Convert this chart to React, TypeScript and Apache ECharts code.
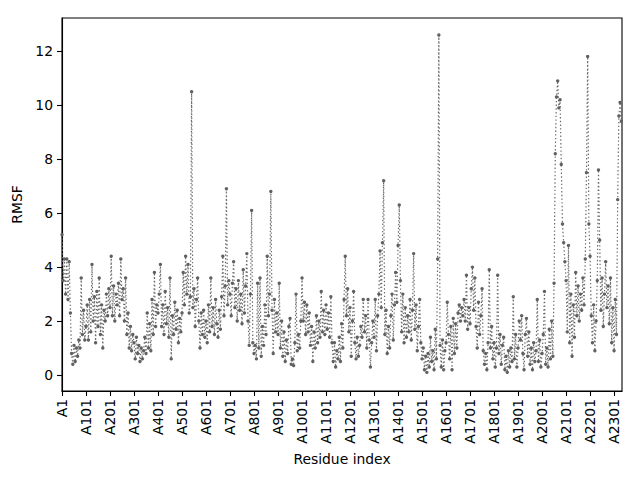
import React, { useEffect, useRef } from "react";
import * as echarts from "echarts";

// RMSF sampled every 5 residues (residue 1, 6, 11, ...)
const RESIDUE_STEP = 5;
const rmsf0001 = [5.2, 3.5, 4.3, 3.0, 4.3, 2.8, 4.2, 2.3, 0.8, 0.4, 1.1, 0.5, 1.0, 0.7, 1.3, 1.0, 3.6, 1.5, 2.4, 1.3];
const rmsf0101 = [1.8, 2.6, 1.3, 2.8, 1.6, 4.1, 2.0, 2.9, 1.2, 3.1, 1.8, 3.6, 1.5, 2.6, 1.0, 2.4, 2.0, 3.0, 2.2, 3.2];
const rmsf0201 = [2.5, 4.4, 2.2, 3.3, 2.0, 3.0, 2.6, 3.4, 2.2, 4.3, 2.8, 3.2, 2.0, 3.6, 1.5, 2.3, 1.0, 1.8, 0.9, 1.5];
const rmsf0301 = [1.2, 0.6, 1.4, 0.8, 1.1, 0.5, 1.0, 0.6, 0.9, 1.4, 0.8, 2.3, 1.0, 1.9, 0.9, 2.8, 1.5, 3.8, 1.8, 2.6];
const rmsf0401 = [2.3, 3.0, 4.1, 1.8, 2.6, 1.5, 3.1, 1.9, 2.5, 1.4, 3.6, 0.6, 2.2, 1.5, 2.7, 1.7, 2.4, 1.2, 2.1, 1.6];
const rmsf0501 = [2.3, 3.8, 2.6, 4.4, 3.0, 4.1, 2.3, 2.9, 10.5, 2.5, 3.2, 1.8, 2.8, 3.6, 2.0, 1.0, 2.3, 1.5, 2.4, 1.4];
const rmsf0601 = [2.0, 1.2, 2.6, 1.6, 3.6, 1.8, 2.5, 1.5, 2.8, 1.9, 1.4, 2.4, 1.7, 2.9, 4.4, 2.2, 3.3, 6.9, 2.6, 3.5];
const rmsf0701 = [3.0, 2.2, 3.4, 4.2, 2.5, 3.2, 2.0, 3.5, 2.4, 3.0, 1.9, 3.9, 2.3, 3.3, 4.5, 2.0, 1.1, 3.0, 6.1, 1.2];
const rmsf0801 = [0.8, 1.1, 0.6, 3.4, 1.0, 3.6, 0.7, 1.8, 1.1, 2.6, 1.5, 4.4, 2.2, 3.0, 6.8, 2.4, 0.8, 2.8, 1.6, 2.3];
const rmsf0901 = [1.5, 3.4, 1.0, 2.0, 0.7, 1.6, 0.5, 1.3, 0.8, 1.8, 2.1, 0.4, 0.6, 0.35, 1.2, 3.0, 0.9, 1.5, 1.0, 2.0];
const rmsf1001 = [3.6, 2.0, 2.7, 1.5, 2.6, 1.6, 2.3, 1.1, 1.8, 0.5, 1.6, 1.0, 2.2, 1.2, 2.0, 1.4, 3.1, 1.6, 2.4, 1.5];
const rmsf1101 = [2.6, 1.7, 2.3, 1.4, 2.9, 1.2, 0.5, 1.2, 0.3, 0.9, 0.6, 1.4, 0.5, 1.9, 1.0, 2.8, 4.4, 2.2, 3.2, 1.6];
const rmsf1201 = [2.5, 0.7, 2.0, 3.1, 1.2, 0.6, 1.4, 0.7, 1.1, 1.8, 1.4, 2.8, 1.6, 2.2, 1.0, 2.8, 1.3, 0.3, 1.2, 2.0];
const rmsf1301 = [1.4, 2.8, 0.9, 2.2, 3.0, 4.6, 2.5, 4.9, 7.2, 1.5, 2.4, 0.8, 1.8, 1.0, 2.2, 3.0, 1.3, 2.6, 3.8, 2.7];
const rmsf1401 = [4.8, 6.3, 3.5, 1.6, 3.0, 1.2, 2.5, 1.4, 2.2, 1.6, 2.8, 1.3, 2.4, 4.5, 1.7, 2.6, 0.9, 1.8, 2.8, 1.2];
const rmsf1501 = [0.6, 1.0, 0.2, 0.7, 0.1, 0.8, 0.3, 1.4, 0.5, 0.9, 0.2, 1.7, 0.6, 4.3, 12.6, 1.1, 0.3, 1.3, 0.2, 0.9];
const rmsf1601 = [1.2, 2.7, 1.5, 0.6, 1.8, 0.2, 2.1, 0.8, 1.9, 1.0, 2.3, 2.6, 2.0, 2.5, 2.2, 2.8, 2.0, 3.7, 1.7, 2.5];
const rmsf1701 = [1.9, 3.2, 4.0, 2.4, 3.6, 1.8, 1.0, 2.7, 1.5, 2.2, 3.2, 0.9, 0.4, 0.8, 0.2, 1.2, 3.9, 1.0, 1.8, 0.6];
const rmsf1801 = [1.2, 0.3, 1.0, 3.7, 0.8, 1.5, 0.4, 1.1, 1.4, 0.2, 0.7, 0.1, 0.9, 0.3, 1.0, 0.5, 2.9, 0.6, 1.5, 0.3];
const rmsf1901 = [1.0, 2.0, 1.3, 2.2, 0.8, 0.2, 1.5, 2.1, 0.7, 1.6, 0.4, 1.0, 0.2, 1.2, 0.5, 0.9, 2.8, 0.5, 1.3, 0.3];
const rmsf2001 = [0.8, 1.5, 3.1, 0.4, 1.0, 0.3, 1.7, 0.6, 2.0, 0.7, 3.4, 8.2, 10.3, 10.9, 9.9, 10.2, 7.8, 5.6, 4.9, 4.2];
const rmsf2101 = [3.5, 1.6, 4.8, 1.2, 3.0, 0.7, 2.6, 1.4, 3.8, 2.2, 3.3, 2.0, 3.0, 2.4, 3.6, 2.6, 4.3, 7.5, 11.8, 5.6];
const rmsf2201 = [4.4, 2.2, 1.2, 2.6, 0.9, 2.0, 3.5, 7.6, 5.0, 2.4, 3.6, 1.8, 3.0, 4.2, 2.5, 3.3, 1.9, 3.6, 1.2, 2.5];
const rmsf2301 = [0.9, 2.8, 1.5, 6.5, 9.6, 10.1, 9.4];

const RMSF = [
  ...rmsf0001, ...rmsf0101, ...rmsf0201, ...rmsf0301, ...rmsf0401, ...rmsf0501,
  ...rmsf0601, ...rmsf0701, ...rmsf0801, ...rmsf0901, ...rmsf1001, ...rmsf1101,
  ...rmsf1201, ...rmsf1301, ...rmsf1401, ...rmsf1501, ...rmsf1601, ...rmsf1701,
  ...rmsf1801, ...rmsf1901, ...rmsf2001, ...rmsf2101, ...rmsf2201, ...rmsf2301,
];

const X_TICK_LABELS = [
  "A1", "A101", "A201", "A301", "A401", "A501", "A601", "A701", "A801", "A901",
  "A1001", "A1101", "A1201", "A1301", "A1401", "A1501", "A1601", "A1701", "A1801",
  "A1901", "A2001", "A2101", "A2201", "A2301",
];
const X_TICK_STEP = 100;
const Y_TICKS = [0, 2, 4, 6, 8, 10, 12];
const X_MAX = 2333;
const Y_MIN = -0.59;
const Y_MAX = 13.23;

const FONT = "DejaVu Sans";

export default function App() {
  const ref = useRef<HTMLDivElement>(null);
  useEffect(() => {
    if (!ref.current) return;
    const chart = echarts.init(ref.current, undefined, { renderer: "svg" });
    const data = RMSF.map((v, i) => [i * RESIDUE_STEP, v]);
    const xTickValues = X_TICK_LABELS.map((_, i) => i * X_TICK_STEP);
    chart.setOption({
      animation: false,
      grid: {
        left: 62,
        right: 18,
        top: 18,
        bottom: 89,
        show: true,
        borderColor: "#000",
        borderWidth: 1.1,
        backgroundColor: "transparent",
      },
      xAxis: {
        type: "value",
        min: 0,
        max: X_MAX,
        name: "Residue index",
        nameLocation: "middle",
        nameGap: 56,
        nameTextStyle: { fontFamily: FONT, fontSize: 13.9, color: "#000" },
        axisLine: { show: true, onZero: false, lineStyle: { color: "#000", width: 1.1 } },
        axisTick: {
          show: true,
          length: 5,
          lineStyle: { color: "#000", width: 1.1 },
          customValues: xTickValues,
        },
        axisLabel: {
          show: true,
          rotate: 90,
          margin: 8,
          fontFamily: FONT,
          fontSize: 13.9,
          color: "#000",
          customValues: xTickValues,
          formatter: (v: number) => X_TICK_LABELS[Math.round(v / X_TICK_STEP)] ?? "",
        },
        splitLine: { show: false },
      },
      yAxis: {
        type: "value",
        min: Y_MIN,
        max: Y_MAX,
        name: "RMSF",
        nameLocation: "middle",
        nameGap: 25,
        nameTextStyle: { fontFamily: FONT, fontSize: 13.9, color: "#000" },
        axisLine: { show: true, onZero: false, lineStyle: { color: "#000", width: 1.1 } },
        axisTick: {
          show: true,
          length: 5,
          lineStyle: { color: "#000", width: 1.1 },
          customValues: Y_TICKS,
        },
        axisLabel: {
          show: true,
          margin: 9,
          fontFamily: FONT,
          fontSize: 13.9,
          color: "#000",
          customValues: Y_TICKS,
          formatter: (v: number) => String(v),
        },
        splitLine: { show: false },
      },
      series: [
        {
          type: "line",
          data,
          symbol: "circle",
          symbolSize: 3.4,
          showSymbol: true,
          itemStyle: { color: "#606060" },
          lineStyle: { color: "#6a6a6a", width: 1.2, type: [1.4, 2.3] },
          silent: true,
        },
      ],
    });
    return () => chart.dispose();
  }, []);
  return (
    <div
      ref={ref}
      style={{ position: "fixed", left: 0, top: 0, width: 640, height: 480, background: "#fff" }}
    />
  );
}
